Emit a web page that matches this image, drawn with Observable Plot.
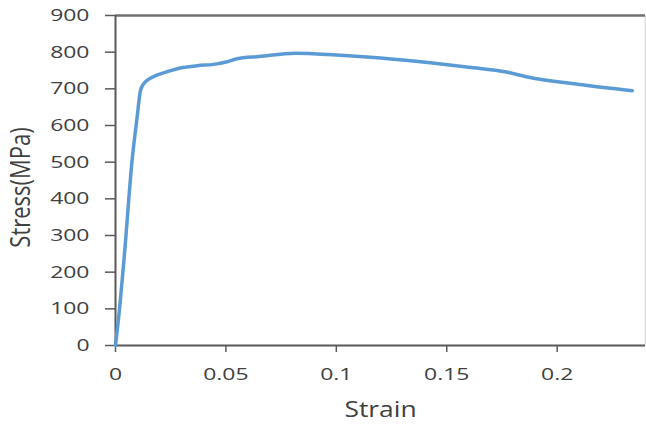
<!DOCTYPE html>
<html>
<head>
<meta charset="utf-8">
<script src="https://cdn.jsdelivr.net/npm/d3@7"></script>
<script src="https://cdn.jsdelivr.net/npm/@observablehq/plot@0.6"></script>
<style>
  html, body { margin: 0; padding: 0; background: #fff; }
  #chart { width: 646px; height: 426px; overflow: hidden; }
</style>
</head>
<body>
<div id="chart"></div>
<script>
// Data
const strain = [0, 0.002, 0.004, 0.0075, 0.0098, 0.0113, 0.0128, 0.0155, 0.019, 0.024, 0.0294, 0.037, 0.046, 0.05, 0.055, 0.065, 0.0814, 0.1, 0.12, 0.1425, 0.16, 0.177, 0.186, 0.21, 0.234];
const stress = [0, 110, 245, 504, 623, 695, 714, 728, 738, 748, 757, 763, 768, 773, 782, 788, 797, 792, 784, 771, 759, 746, 733, 712, 695];
const xTicks = [0, 0.05, 0.1, 0.15, 0.2];
const yTicks = [0, 100, 200, 300, 400, 500, 600, 700, 800, 900];
const xMax = 0.24;
const xTitle = "Strain";
const yTitle = "Stress(MPa)";

const data = strain.map((s, i) => ({strain: s, stress: stress[i]}));

const textColor = "#404040";
const axisColor = "#595959";

const chart = Plot.plot({
  width: 646,
  height: 426,
  marginLeft: 115,
  marginRight: 1,
  marginTop: 15,
  marginBottom: 81,
  style: {fontFamily: "'Open Sans', sans-serif", color: textColor, background: "#fff"},
  x: {domain: [0, xMax]},
  y: {domain: [yTicks[0], yTicks[yTicks.length - 1]]},
  marks: [
    Plot.axisX({ticks: xTicks, tickSize: 7, tickPadding: 15, tickFormat: d => String(d), label: null, fontSize: 17, stroke: axisColor, strokeWidth: 1.5, fill: textColor}),
    Plot.axisY({ticks: yTicks, tickSize: 10, tickPadding: 16, tickFormat: d => String(d), label: null, fontSize: 17, stroke: axisColor, strokeWidth: 1.5, fill: textColor}),
    Plot.ruleX([xMax], {stroke: "#d9d9d9", strokeWidth: 1.5}),
    Plot.ruleY([yTicks[yTicks.length - 1]], {stroke: "#707070", strokeWidth: 2.5}),
    Plot.ruleY([yTicks[0]], {stroke: axisColor, strokeWidth: 2}),
    Plot.ruleX([0], {stroke: axisColor, strokeWidth: 2}),
    Plot.line(data, {x: "strain", y: "stress", stroke: "#5b9bd5", strokeWidth: 3.5, curve: "monotone-x"}),
    Plot.text([xTitle], {text: d => d, frameAnchor: "bottom", dy: 71, fontSize: 22, fill: textColor, className: "xtitle"}),
    Plot.text([yTitle], {text: d => d, frameAnchor: "left", textAnchor: "middle", lineAnchor: "middle", dx: -94, dy: 7, rotate: -90, fontSize: 22, fill: textColor, className: "ytitle"})
  ]
});

// Reference glyphs appear horizontally stretched
chart.querySelectorAll('g[aria-label="x-axis tick label"] text, g[aria-label="y-axis tick label"] text').forEach(t => {
  t.setAttribute("transform", (t.getAttribute("transform") || "") + " scale(1.35,1)");
});
chart.querySelectorAll('.xtitle text').forEach(t => {
  t.setAttribute("transform", (t.getAttribute("transform") || "") + " scale(1.2,1)");
});
chart.querySelectorAll('.ytitle text').forEach(t => {
  t.setAttribute("transform", (t.getAttribute("transform") || "") + " scale(1,1.2)");
});

document.getElementById("chart").appendChild(chart);
</script>
</body>
</html>
